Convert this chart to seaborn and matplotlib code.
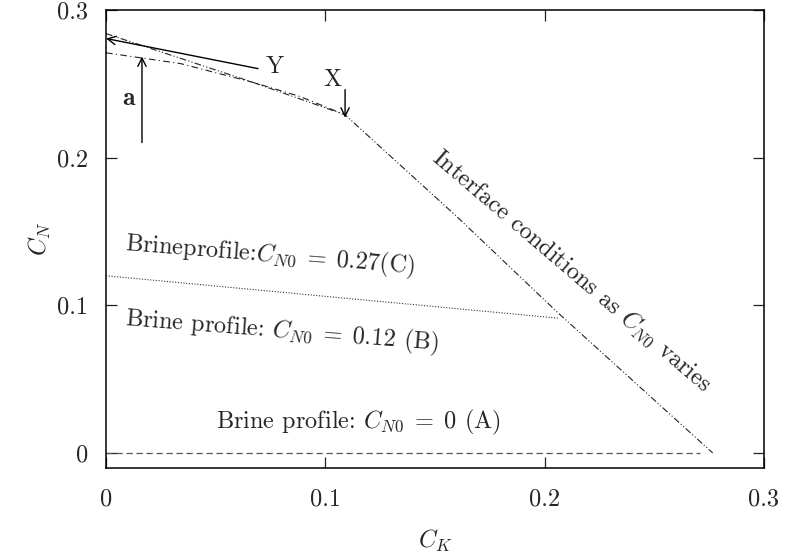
import matplotlib
matplotlib.use("Agg")
import matplotlib.pyplot as plt
import seaborn as sns
import pandas as pd

# ---- data ----
interface_ck = [0.0, 0.067, 0.109, 0.160, 0.206, 0.2766]
interface_cn = [0.284, 0.251, 0.229, 0.160, 0.095, 0.0]

profile_c_ck = [0.0, 0.034, 0.067, 0.0885, 0.109]
profile_c_cn = [0.271, 0.2637, 0.251, 0.2414, 0.229]

profile_b_ck = [0.0, 0.206]
profile_b_cn = [0.120, 0.0913]

profile_a_ck = [0.0, 0.271]
profile_a_cn = [0.0, 0.0]

xticks = [0.0, 0.1, 0.2, 0.3]
xticklabels = ["0", "0.1", "0.2", "0.3"]
yticks = [0.0, 0.1, 0.2, 0.3]
yticklabels = ["0", "0.1", "0.2", "0.3"]

# ---- style ----
sns.set_theme(style="ticks")
plt.rcParams["font.family"] = ["cmr10", "DejaVu Serif"]
plt.rcParams["mathtext.fontset"] = "cm"
plt.rcParams["axes.formatter.use_mathtext"] = True
plt.rcParams["axes.unicode_minus"] = False

FS = 17.5

fig = plt.figure(figsize=(7.89, 5.54), dpi=100)
ax = fig.add_axes([106 / 789, 1 - 468 / 554, (764 - 106) / 789, (468 - 10) / 554])

def draw(xs, ys, dashes, color, lw):
    df = pd.DataFrame({"x": xs, "y": ys})
    sns.lineplot(data=df, x="x", y="y", ax=ax, color=color, lw=lw, sort=False)
    ln = ax.lines[-1]
    ln.set_dashes(dashes)

draw(interface_ck, interface_cn, (6, 2, 1, 2, 1, 2), "#222222", 0.8)
draw(profile_c_ck, profile_c_cn, (6, 3, 1, 3), "#222222", 0.8)
draw(profile_b_ck, profile_b_cn, (1, 1.5), "#333333", 0.8)
draw(profile_a_ck, profile_a_cn, (5, 3), "#555555", 0.9)

ax.set_xlim(0, 0.3)
ax.set_ylim(-0.0102, 0.3)
ax.set_xticks(xticks)
ax.set_xticklabels(xticklabels)
ax.set_yticks(yticks)
ax.set_yticklabels(yticklabels)
ax.tick_params(direction="in", length=8, width=0.9, color="#222222",
               top=True, right=True, labelsize=FS)
ax.tick_params(axis="x", pad=15)
ax.tick_params(axis="y", pad=13)
for s in ax.spines.values():
    s.set_linewidth(1.1)
    s.set_color("black")
ax.set_xlabel("$C_K$", fontsize=FS, labelpad=12)
ax.set_ylabel("$C_N$", fontsize=FS, labelpad=3)

# arrows
arr = dict(arrowstyle="->", lw=1.0, color="black", mutation_scale=15,
           shrinkA=0, shrinkB=0)
ax.annotate("", xy=(0.0, 0.2807), xytext=(0.0693, 0.2603), arrowprops=arr)
ax.annotate("", xy=(0.109, 0.2271), xytext=(0.109, 0.2461), arrowprops=arr)
ax.annotate("", xy=(0.0164, 0.2685), xytext=(0.0164, 0.2102), arrowprops=arr)

ax.text(0.0730, 0.2615, "Y", fontsize=FS, ha="left", va="center")
ax.text(0.1035, 0.2525, "X", fontsize=FS, ha="center", va="center")
ax.text(0.0105, 0.2400, r"$\mathbf{a}$", fontsize=FS + 1, ha="center", va="center")

ax.text(0.0087, 0.1415, r"Brineprofile:$C_{N0}\;=\;0.27$(C)", fontsize=FS,
        ha="left", va="center", rotation=-4.5, rotation_mode="anchor")
ax.text(0.0087, 0.0905, r"Brine profile: $C_{N0}\;=\;0.12$ (B)", fontsize=FS,
        ha="left", va="center", rotation=-4.5, rotation_mode="anchor")
ax.text(0.1149, 0.0205, r"Brine profile: $C_{N0}\;=\;0$ (A)", fontsize=FS,
        ha="center", va="center")
ax.text(0.2125, 0.1235, r"Interface conditions as $C_{N0}$ varies", fontsize=FS,
        ha="center", va="center", rotation=-40.5, rotation_mode="anchor")

fig.savefig("out.png", dpi=100)
